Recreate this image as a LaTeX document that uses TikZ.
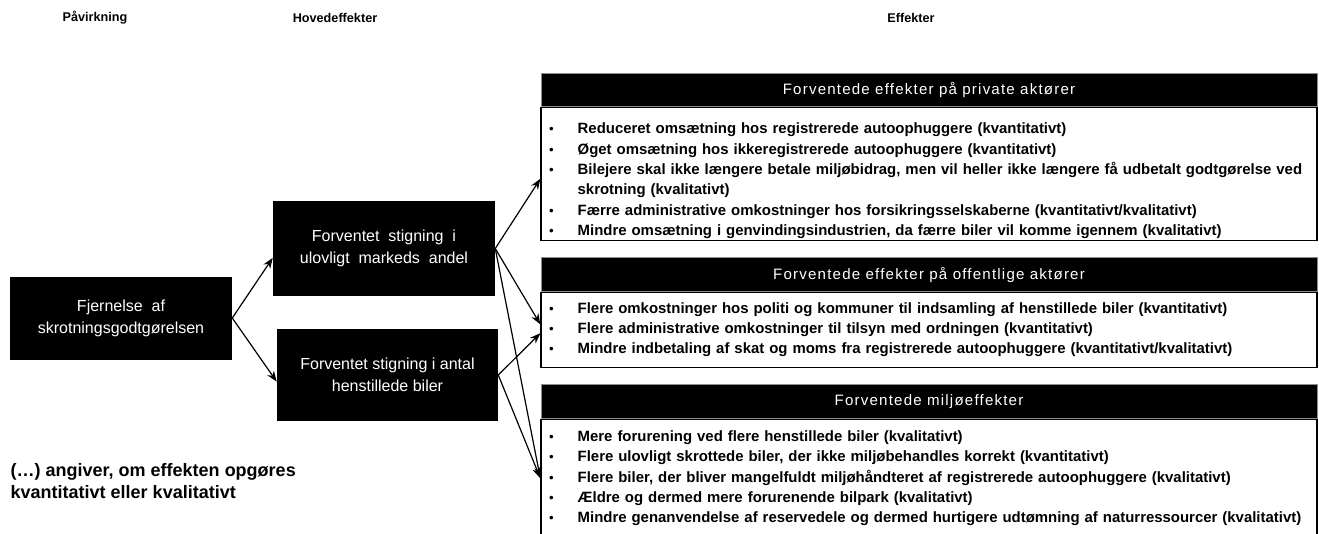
\documentclass[tikz,border=0pt]{standalone}
\usepackage{fontspec}
\setmainfont{Liberation Sans}
\newfontfamily\bandfont[LetterSpace=8]{Liberation Sans}
\usetikzlibrary{arrows.meta,positioning}
\definecolor{bandEdge}{HTML}{8C8C8C}

\tikzset{
  colhead/.style={font=\bfseries\fontsize{9.5}{11}\selectfont},
  darkbox/.style={fill=black, text=white, align=center, inner sep=2pt,
    font=\fontsize{12}{16.5}\selectfont},
  bandhead/.style={fill=black, draw=bandEdge, line width=0.6pt, text=white,
    minimum width=582pt, minimum height=25pt, inner sep=0pt,
    font=\bandfont\fontsize{11.3}{12}\selectfont},
  bandbody/.style={draw=black, line width=1pt, fill=white, text width=570pt,
    inner xsep=6pt, inner ysep=0pt, align=left,
    font=\bfseries\fontsize{11.2}{15.2}\selectfont},
  flow/.style={-{Stealth[length=8pt,width=6pt]}, line width=0.9pt},
}
\newcommand{\bul}{\makebox[21.5pt][l]{\mdseries\fontsize{10}{15}\selectfont\textbullet}}
\newcommand{\itm}[1]{\bul\mbox{#1}}

\begin{document}
\begin{tikzpicture}[x=0.75pt, y=-0.75pt]
  \clip (0,0) rectangle (1319,533);

  % column titles
  \node[colhead] (hdcause) at (95,18) {Påvirkning};
  \node[colhead] (hdmain) at (335,18) {Hovedeffekter};
  \node[colhead] (hdeff) at (911,18) {Effekter};

  % cause and main effects
  \node[darkbox, minimum width=166.5pt, minimum height=62.25pt] (cause) at (121,318)
    {Fjernelse~ af\\skrotningsgodtgørelsen};
  \node[darkbox, minimum width=166.5pt, minimum height=71.25pt] (main1) at (384,248.5)
    {Forventet~ stigning~ i\\ulovligt~ markeds~ andel};
  \node[darkbox, minimum width=165.75pt, minimum height=69pt] (main2) at (387.5,375)
    {Forventet stigning i antal\\henstillede biler};

  % private actors
  \node[bandhead] (privhead) at (929,90) {Forventede effekter på private aktører};
  \node[bandbody, minimum height=99.75pt, below=0pt of privhead] (privbody) {%
    \rule{0pt}{18pt}\itm{Reduceret omsætning hos registrerede autoophuggere (kvantitativt)}\\
    \itm{Øget omsætning hos ikkeregistrerede autoophuggere (kvantitativt)}\\
    \itm{Bilejere skal ikke længere betale miljøbidrag, men vil heller ikke længere få udbetalt godtgørelse ved}\\
    \hspace*{21.5pt}\mbox{skrotning (kvalitativt)}\\
    \itm{Færre administrative omkostninger hos forsikringsselskaberne (kvantitativt/kvalitativt)}\\
    \itm{Mindre omsætning i genvindingsindustrien, da færre biler vil komme igennem (kvalitativt)}};

  % public actors
  \node[bandhead] (pubhead) at (929,274.5) {Forventede effekter på offentlige aktører};
  \node[bandbody, minimum height=56.25pt, below=0pt of pubhead] (pubbody) {%
    \itm{Flere omkostninger hos politi og kommuner til indsamling af henstillede biler (kvantitativt)}\\
    \itm{Flere administrative omkostninger til tilsyn med ordningen (kvantitativt)}\\
    \itm{Mindre indbetaling af skat og moms fra registrerede autoophuggere (kvantitativt/kvalitativt)}};

  % environment
  \node[bandhead] (envhead) at (929,401.5) {Forventede miljøeffekter};
  \node[bandbody, minimum height=88.5pt, below=0pt of envhead] (envbody) {%
    \itm{Mere forurening ved flere henstillede biler (kvalitativt)}\\
    \itm{Flere ulovligt skrottede biler, der ikke miljøbehandles korrekt (kvantitativt)}\\
    \itm{Flere biler, der bliver mangelfuldt miljøhåndteret af registrerede autoophuggere (kvalitativt)}\\
    \itm{Ældre og dermed mere forurenende bilpark (kvalitativt)}\\
    \itm{Mindre genanvendelse af reservedele og dermed hurtigere udtømning af naturressourcer (kvalitativt)}};

  % connectors
  \draw[flow] (cause.east) -- ([yshift=-7pt]main1.west);
  \draw[flow] (cause.east) -- ([yshift=-5pt]main2.west);
  \draw[flow] (main1.east) -- ([yshift=-3.4pt]privbody.west);
  \draw[flow] (main1.east) -- ([yshift=4pt]pubbody.west);
  \draw[flow] (main2.east) -- ([yshift=-2.6pt]pubbody.west);
  \draw[flow] (main1.east) -- (envbody.west);
  \draw[flow] (main2.east) -- (envbody.west);

  \node[anchor=west, align=left, font=\bfseries\fontsize{13.5}{16.5}\selectfont] (note) at (6,481)
    {(…) angiver, om effekten opgøres\\kvantitativt eller kvalitativt};
\end{tikzpicture}
\end{document}
